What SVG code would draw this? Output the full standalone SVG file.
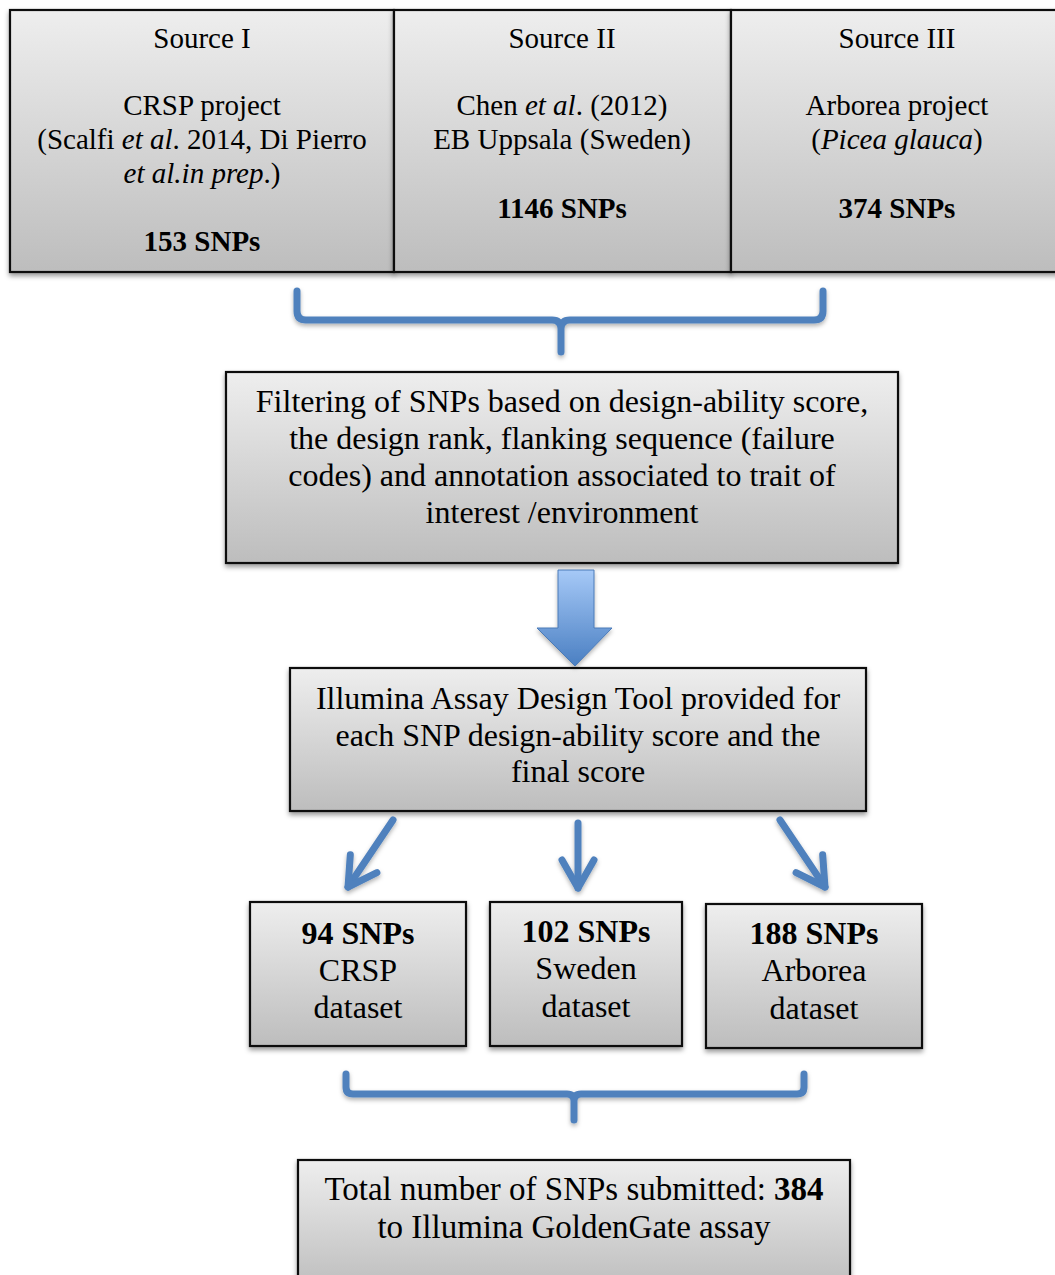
<svg xmlns="http://www.w3.org/2000/svg" width="1055" height="1275" viewBox="0 0 1055 1275">
<style>
.box{fill:url(#boxGrad);stroke:#111;stroke-width:2.2;filter:url(#shadow)}
.t{font-family:"Liberation Serif","Times New Roman",serif;fill:#000;text-anchor:middle}
.s29{font-size:29px}
.s32{font-size:32px}
.s33{font-size:33px}
.b{font-weight:bold}
.i{font-style:italic}
.brace{fill:none;stroke:#4f81bd;stroke-width:7;stroke-linecap:round;stroke-linejoin:round;filter:url(#lshadow)}
.arr{fill:none;stroke:#4f81bd;stroke-width:7;stroke-linecap:round;marker-end:url(#chev);filter:url(#lshadow)}
</style>
<defs>
<linearGradient id="boxGrad" x1="0" y1="0" x2="0" y2="1">
<stop offset="0" stop-color="#eeeeee"/>
<stop offset="1" stop-color="#bdbdbd"/>
</linearGradient>
<linearGradient id="arrowGrad" x1="0" y1="0" x2="0" y2="1">
<stop offset="0" stop-color="#a6c9f7"/>
<stop offset="1" stop-color="#4a7fc2"/>
</linearGradient>
<filter id="shadow" x="-5%" y="-5%" width="110%" height="120%">
<feDropShadow dx="0" dy="3" stdDeviation="2.5" flood-color="#000" flood-opacity="0.4"/>
</filter>
<filter id="lshadow" filterUnits="userSpaceOnUse" x="0" y="0" width="1055" height="1275">
<feDropShadow dx="0" dy="2.5" stdDeviation="2" flood-color="#000" flood-opacity="0.3"/>
</filter>
<marker id="chev" markerUnits="userSpaceOnUse" markerWidth="60" markerHeight="60" viewBox="-40 -30 60 60" refX="0" refY="0" orient="auto" overflow="visible">
<path d="M -28 -16 L 0 0 L -28 16" fill="none" stroke="#4f81bd" stroke-width="7" stroke-linecap="round" stroke-linejoin="round"/>
</marker>
</defs>
<rect width="1055" height="1275" fill="#fff"/>

<g id="source1">
<rect class="box" x="10" y="10" width="384" height="262"/>
<text class="t s29" x="202" y="48">Source I</text>
<text class="t s29" x="202" y="115">CRSP project</text>
<text class="t s29" x="202" y="149">(Scalfi <tspan class="i">et al</tspan>. 2014, Di Pierro</text>
<text class="t s29" x="202" y="183"><tspan class="i">et al.in prep</tspan>.)</text>
<text class="t s29 b" x="202" y="251">153 SNPs</text>
</g>
<g id="source2">
<rect class="box" x="394" y="10" width="337" height="262"/>
<text class="t s29" x="562" y="48">Source II</text>
<text class="t s29" x="562" y="115">Chen <tspan class="i">et al</tspan>. (2012)</text>
<text class="t s29" x="562" y="149">EB Uppsala (Sweden)</text>
<text class="t s29 b" x="562" y="218">1146 SNPs</text>
</g>
<g id="source3">
<rect class="box" x="731" y="10" width="334" height="262"/>
<text class="t s29" x="897" y="48">Source III</text>
<text class="t s29" x="897" y="115">Arborea project</text>
<text class="t s29" x="897" y="149">(<tspan class="i">Picea glauca</tspan>)</text>
<text class="t s29 b" x="897" y="218">374 SNPs</text>
</g>

<g id="filtering">
<rect class="box" x="226" y="372" width="672" height="191"/>
<text class="t s32" x="562" y="412">Filtering of SNPs based on design-ability score,</text>
<text class="t s32" x="562" y="449">the design rank, flanking sequence (failure</text>
<text class="t s32" x="562" y="486">codes) and annotation associated to trait of</text>
<text class="t s32" x="562" y="523">interest /environment</text>
</g>

<g id="illumina">
<rect class="box" x="290" y="668" width="576" height="143"/>
<text class="t s32" x="578" y="709">Illumina Assay Design Tool provided for</text>
<text class="t s32" x="578" y="746">each SNP design-ability score and the</text>
<text class="t s32" x="578" y="782">final score</text>
</g>

<g id="crsp">
<rect class="box" x="250" y="902" width="216" height="144"/>
<text class="t s32 b" x="358" y="944">94 SNPs</text>
<text class="t s32" x="358" y="981">CRSP</text>
<text class="t s32" x="358" y="1018">dataset</text>
</g>
<g id="sweden">
<rect class="box" x="490" y="902" width="192" height="144"/>
<text class="t s32 b" x="586" y="942">102 SNPs</text>
<text class="t s32" x="586" y="979">Sweden</text>
<text class="t s32" x="586" y="1017">dataset</text>
</g>
<g id="arborea">
<rect class="box" x="706" y="904" width="216" height="144"/>
<text class="t s32 b" x="814" y="944">188 SNPs</text>
<text class="t s32" x="814" y="981">Arborea</text>
<text class="t s32" x="814" y="1019">dataset</text>
</g>

<g id="total">
<rect class="box" x="298" y="1160" width="552" height="130"/>
<text class="t s33" x="574" y="1200">Total number of SNPs submitted: <tspan class="b">384</tspan></text>
<text class="t s33" x="574" y="1238">to Illumina GoldenGate assay</text>
</g>

<g id="connectors">
<path class="brace" d="M297 291 V311 Q297 320 306 320 H552 Q561 320 561 329 V352 M561 329 Q561 320 570 320 H814 Q823 320 823 311 V291"/>
<path d="M558 570 H594 V628 H612 L575 666 L537 628 H558 Z" fill="url(#arrowGrad)" stroke="#4a7ab8" stroke-width="1" filter="url(#lshadow)"/>
<path class="arr" d="M393 820 L348 887"/>
<path class="arr" d="M578 823 L578 888"/>
<path class="arr" d="M780 820 L825 887"/>
<path class="brace" d="M346 1074 V1087 Q346 1094 353 1094 H567 Q574 1094 574 1101 V1120 M574 1101 Q574 1094 581 1094 H797 Q804 1094 804 1087 V1074"/>
</g>
</svg>
